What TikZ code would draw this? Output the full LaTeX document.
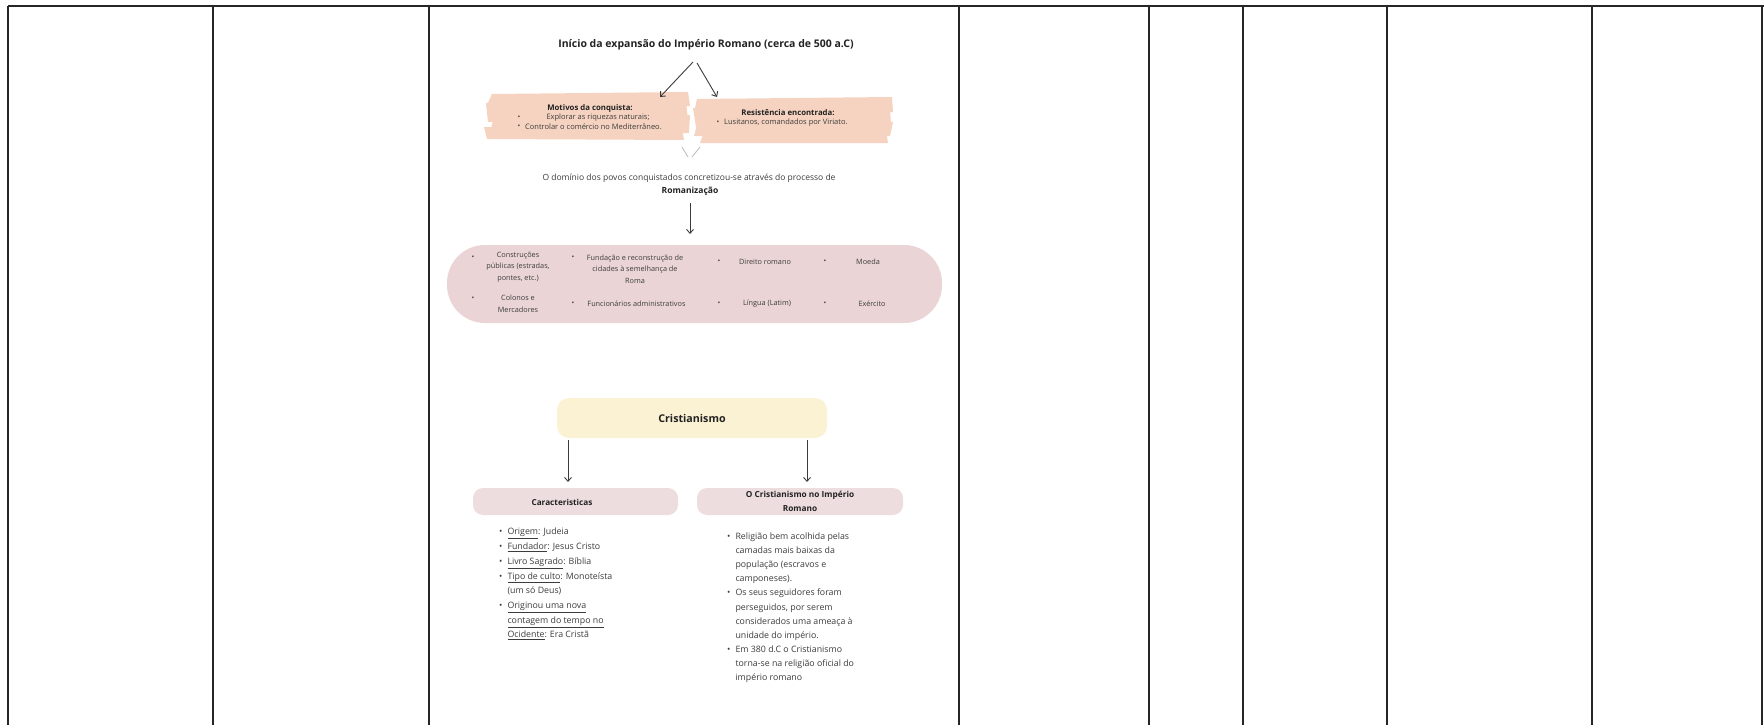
\documentclass[tikz,border=0pt]{standalone}
\usepackage{fontspec}
\setmainfont{Open Sans}
\usetikzlibrary{arrows.meta}
\definecolor{ink}{HTML}{3C3C3C}
\definecolor{titleink}{HTML}{222222}
\definecolor{peach}{HTML}{F6D3C0}
\definecolor{pillpink}{HTML}{EAD4D5}
\definecolor{boxpink}{HTML}{EDDDDF}
\definecolor{cream}{HTML}{FBF2D4}
\definecolor{faintgray}{HTML}{BBBBBB}
\tikzset{
  gridline/.style={line width=1.4pt, draw=black!85},
  arr/.style={draw=ink, line width=0.9pt, -{Straight Barb[length=4pt,width=7pt]}},
  tiny/.style={font=\fontsize{7.3}{11.5}\selectfont, text=ink, inner sep=0pt, align=center},
  boxtxt/.style={font=\fontsize{7.5}{9.5}\selectfont, text=ink, inner sep=0pt},
  boxhead/.style={font=\fontsize{7.8}{9.5}\selectfont\bfseries, text=titleink, inner sep=0pt},
  bul/.style={font=\fontsize{7.3}{9}\selectfont, text=ink, inner sep=0pt},
  midtxt/.style={font=\fontsize{8.5}{13}\selectfont, text=ink, inner sep=0pt, align=center},
  headbox/.style={rectangle, rounded corners=10pt, fill=boxpink, minimum height=27pt, inner sep=0pt},
  listtxt/.style={text=ink, inner sep=0pt}
}
\begin{document}
\begin{tikzpicture}[x=1pt,y=-1pt]
\useasboundingbox[fill=white] (0,0) rectangle (1764,725);

% grid lines
\draw[gridline] (8,6) -- (1764,6);
\foreach \xx in {8,213,429,959,1149,1243,1387,1592,1762}
  \draw[gridline] (\xx,6) -- (\xx,725);

% title
\node[font=\fontsize{10.5}{12}\selectfont\bfseries, text=titleink, inner sep=0pt] (title) at (706,45)
  {Início da expansão do Império Romano (cerca de 500 a.C)};

% brush strokes
\fill[peach] (492,94) -- (688,92) -- (690,106) -- (486,107) -- cycle;
\fill[peach] (486,103) -- (686,101) -- (688,121) -- (488,122) -- cycle;
\fill[peach] (494,116) -- (690,115) -- (689,133) -- (490,133) -- cycle;
\fill[peach] (484,127) -- (682,128) -- (684,140) -- (487,139) -- cycle;
\fill[peach] (697,99) -- (892,97) -- (893,112) -- (694,113) -- cycle;
\fill[peach] (693,108) -- (890,108) -- (891,126) -- (696,127) -- cycle;
\fill[peach] (698,121) -- (893,122) -- (890,136) -- (694,136) -- cycle;
\fill[peach] (704,132) -- (886,131) -- (888,143) -- (700,143) -- cycle;

% left box text
\node[boxhead] (motivos) at (590,108) {Motivos da conquista:};
\node[bul] (mb1) at (519,118) {\textbullet};
\node[boxtxt] (m1) at (598,118) {Explorar as riquezas naturais;};
\node[bul] (mb2) at (519,127) {\textbullet};
\node[boxtxt, anchor=west] (m2) at (525,127) {Controlar o comércio no Mediterrâneo.};

% right box text
\node[boxhead] (resist) at (788,113) {Resistência encontrada:};
\node[bul] (rb1) at (718,123) {\textbullet};
\node[boxtxt, anchor=west] (r1) at (724,123) {Lusitanos, comandados por Viriato.};

% arrows from title
\coordinate (tl) at (693,62);
\coordinate (tr) at (697,63);
\coordinate (al) at (660,97);
\coordinate (ar) at (717,97);
\draw[arr] (tl) -- (al);
\draw[arr] (tr) -- (ar);

% faint V
\coordinate (v1) at (682,147);
\coordinate (v2) at (688,157);
\coordinate (v3) at (700,147);
\coordinate (v4) at (692,157);
\draw[faintgray, line width=0.8pt] (v1) -- (v2);
\draw[faintgray, line width=0.8pt] (v3) -- (v4);

% romanizacao text
\node[midtxt] (dominio) at (689,178) {O domínio dos povos conquistados concretizou-se através do processo de};
\node[midtxt, font=\fontsize{8.5}{13}\selectfont\bfseries, text=titleink] (roman) at (690,191) {Romanização};

% pill
\node[rectangle, rounded corners=38pt, fill=pillpink, minimum width=495pt, minimum height=78pt, inner sep=0pt] (pill) at (694.5,284) {};
\coordinate (rs) at (690,203);
\coordinate (re) at (690,234);
\draw[arr] (rs) -- (re);

% pill contents
\node[bul] (b11) at (473,258) {\textbullet};
\node[tiny] (c11) at (518,267) {Construções\\públicas (estradas,\\pontes, etc.)};
\node[bul] (b12) at (473,299) {\textbullet};
\node[tiny] (c12) at (518,304) {Colonos e\\Mercadores};
\node[bul] (b21) at (573,258) {\textbullet};
\node[tiny] (c21) at (635,269) {Fundação e reconstrução de\\cidades à semelhança de\\Roma};
\node[bul] (b22) at (573,304) {\textbullet};
\node[tiny] (c22) at (636.5,304) {Funcionários administrativos};
\node[bul] (b31) at (719,262) {\textbullet};
\node[tiny] (c31) at (765,262) {Direito romano};
\node[bul] (b32) at (719,304) {\textbullet};
\node[tiny] (c32) at (767,304) {Língua (Latim)};
\node[bul] (b41) at (825,262) {\textbullet};
\node[tiny] (c41) at (868,262) {Moeda};
\node[bul] (b42) at (825,304) {\textbullet};
\node[tiny] (c42) at (872,304) {Exército};

% Cristianismo
\node[rectangle, rounded corners=12pt, fill=cream, minimum width=270pt, minimum height=40pt, inner sep=0pt,
      font=\fontsize{10.7}{12}\selectfont\bfseries, text=titleink] (crist) at (692,418) {Cristianismo};

\node[headbox, minimum width=205pt] (carbox) at (575.5,501.5) {};
\node[font=\fontsize{8.2}{10}\selectfont\bfseries, text=titleink, inner sep=0pt] (cartxt) at (562,502) {Caracteristicas};
\node[headbox, minimum width=206pt, align=center, font=\fontsize{8.3}{13.5}\selectfont\bfseries, text=titleink] (imbox) at (800,501.5)
  {O Cristianismo no Império\\Romano};

\coordinate (cl1) at (568,440);
\coordinate (cl2) at (568,482);
\coordinate (cr1) at (807,440);
\coordinate (cr2) at (807,482);
\draw[arr] (cl1) -- (cl2);
\draw[arr] (cr1) -- (cr2);

% left list
\node[listtxt, anchor=north west, font=\fontsize{8.8}{14.7}\selectfont] (carlist) at (499,524.5) {%
\begin{tabular}{@{}l@{\hspace{5pt}}l@{}}
\textbullet & \underline{Origem}: Judeia\\
\textbullet & \underline{Fundador}: Jesus Cristo\\
\textbullet & \underline{Livro Sagrado}: Bíblia\\
\textbullet & \underline{Tipo de culto}: Monoteísta\\
 & (um só Deus)\\
\textbullet & \underline{Originou uma nova}\\
 & \underline{contagem do tempo no}\\
 & \underline{Ocidente}: Era Cristã
\end{tabular}};

% right list
\node[listtxt, anchor=north west, font=\fontsize{8.8}{14.1}\selectfont] (imlist) at (727,529.5) {%
\begin{tabular}{@{}l@{\hspace{5pt}}l@{}}
\textbullet & Religião bem acolhida pelas\\
 & camadas mais baixas da\\
 & população (escravos e\\
 & camponeses).\\
\textbullet & Os seus seguidores foram\\
 & perseguidos, por serem\\
 & considerados uma ameaça à\\
 & unidade do império.\\
\textbullet & Em 380 d.C o Cristianismo\\
 & torna-se na religião oficial do\\
 & império romano
\end{tabular}};
\end{tikzpicture}
\end{document}
